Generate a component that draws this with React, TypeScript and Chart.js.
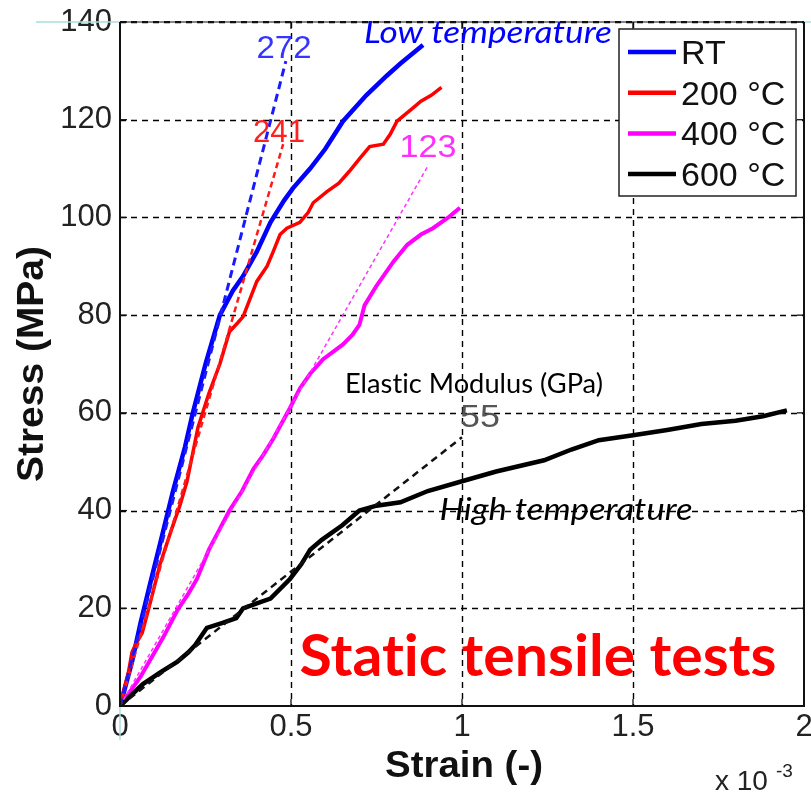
import React, { useEffect, useRef } from 'react';
import { Chart, registerables } from 'chart.js';

Chart.register(...registerables);

// ---------- data ----------
const xTickValues = [0, 0.5, 1, 1.5, 2];
const xTickLabels = ['0', '0.5', '1', '1.5', '2'];
const yTickValues = [0, 20, 40, 60, 80, 100, 120, 140];
const yTickLabels = ['0', '20', '40', '60', '80', '100', '120', '140'];

const seriesLabels = ['RT', '200 °C', '400 °C', '600 °C'];

// strain in units of 1e-3, stress in MPa
const rtStrain = [0, 0.012, 0.035, 0.06, 0.088, 0.12, 0.155, 0.19, 0.213, 0.25, 0.292, 0.33, 0.36, 0.4, 0.44, 0.48, 0.506, 0.556, 0.6, 0.652, 0.72, 0.78, 0.82, 0.886];
const rtStress = [0, 3, 9, 17, 25, 34, 44, 53, 60, 70, 80, 85, 88, 93, 99, 103.5, 106, 110, 114, 119.7, 125, 129, 131.5, 135.3];

const t200Strain = [0, 0.01, 0.025, 0.035, 0.045, 0.065, 0.088, 0.117, 0.15, 0.175, 0.196, 0.228, 0.26, 0.292, 0.32, 0.345, 0.36, 0.4, 0.43, 0.448, 0.468, 0.488, 0.526, 0.55, 0.565, 0.605, 0.64, 0.67, 0.7, 0.73, 0.77, 0.79, 0.81, 0.85, 0.88, 0.91, 0.94];
const t200Stress = [0, 3, 7, 11, 12.5, 15, 21, 29, 36, 41, 46, 57, 64, 70, 76.6, 78.5, 79.7, 86.9, 90, 93, 96.5, 97.8, 99, 101, 103, 105.3, 107, 109.4, 112, 114.5, 115, 117, 119.7, 122, 123.8, 125, 126.6];

const t400Strain = [0, 0.03, 0.06, 0.097, 0.126, 0.167, 0.2, 0.225, 0.26, 0.29, 0.32, 0.357, 0.39, 0.42, 0.448, 0.497, 0.526, 0.556, 0.594, 0.652, 0.68, 0.7, 0.715, 0.75, 0.8, 0.84, 0.88, 0.915, 0.96, 0.994];
const t400Stress = [0, 3, 6, 10.5, 14, 19.5, 23, 26, 32, 36, 40, 44, 48.5, 51.5, 54.7, 61, 65, 68, 71, 74, 76, 78, 82, 86, 91, 94.4, 96.5, 97.8, 100, 102];

const t600Strain = [0, 0.03, 0.067, 0.12, 0.167, 0.2, 0.22, 0.254, 0.3, 0.34, 0.36, 0.4, 0.44, 0.497, 0.53, 0.556, 0.59, 0.65, 0.7, 0.75, 0.82, 0.9, 1.0, 1.1, 1.24, 1.32, 1.4, 1.5, 1.6, 1.7, 1.8, 1.88, 1.95];
const t600Stress = [0, 2, 4.5, 7, 9, 11, 12.5, 16, 17, 18, 20, 21, 22, 26, 29, 32, 34, 37, 40, 41, 41.7, 44, 46, 48, 50.3, 52.5, 54.4, 55.4, 56.5, 57.7, 58.4, 59.3, 60.5];

// elastic-modulus fit lines (GPa), drawn from origin to end point
const modulusLabels = ['272', '241', '123', '55'];
const fitEndStrain = [0.485, 0.477, 0.9, 1.0];
const fitEndStress = [132, 115, 110.5, 55];

// ---------- styles ----------
const colors = ['#0000ff', '#ff0000', '#ff00ff', '#000000'];
const solidWidths = [4.5, 3.5, 4, 4.5];
const fitDash = [[8, 5], [6, 4], [4, 3], [7, 5]];
const fitWidths = [3, 2.5, 1.5, 2.5];
const fitColors = ['#1a1aff', '#ff1a1a', '#ff33ff', '#111111'];

// annotations (data coordinates of text centre / baseline)
const notes = [
  { text: modulusLabels[0], x: 0.4795, y: 132.6, font: '32px "Liberation Sans"', color: '#3535ff', w: 55 },
  { text: modulusLabels[1], x: 0.465, y: 115.4, font: '32px "Liberation Sans"', color: '#ff2020', w: 52 },
  { text: modulusLabels[2], x: 0.9006, y: 112.4, font: '32px "Liberation Sans"', color: '#ff30ff', w: 57 },
  { text: modulusLabels[3], x: 1.0526, y: 57.1, font: '32px "Liberation Sans"', color: '#555555', w: 40 },
  { text: 'Low temperature', x: 1.076, y: 135.7, font: 'italic 30px Lato', color: '#0000ff', w: 248 },
  { text: 'Elastic Modulus (GPa)', x: 1.035, y: 64.06, font: '26px Lato', color: '#000000', w: 258 },
  { text: 'High temperature', x: 1.304, y: 38.07, font: 'italic 30px Lato', color: '#000000', w: 253 },
  { text: 'Static tensile tests', x: 1.222, y: 6.2, font: 'bold 58px Lato', color: '#ff0000', w: 477 },
];

function drawText(ctx: CanvasRenderingContext2D, s: string, cx: number, base: number, font: string, color: string, w?: number) {
  ctx.save();
  ctx.font = font;
  try { (ctx as any).letterSpacing = '0.01px'; } catch (e) { /* ignore */ }
  ctx.fillStyle = color;
  ctx.textAlign = 'center';
  ctx.textBaseline = 'alphabetic';
  ctx.translate(cx, base);
  if (w) {
    const m = ctx.measureText(s).width;
    ctx.scale(w / m, 1);
  }
  ctx.fillText(s, 0, 0);
  ctx.restore();
}

function seg(ctx: CanvasRenderingContext2D, x1: number, y1: number, x2: number, y2: number) {
  ctx.beginPath();
  ctx.moveTo(x1, y1);
  ctx.lineTo(x2, y2);
  ctx.stroke();
}

const overlay = {
  id: 'overlay',
  beforeDatasetsDraw(chart: any) {
    const { ctx, chartArea: a, scales } = chart;
    const x = scales.x, y = scales.y;
    ctx.save();
    ctx.strokeStyle = '#000';
    ctx.lineWidth = 1.4;
    ctx.setLineDash([6, 5]);
    xTickValues.forEach((v) => {
      if (v > 0 && v < 2) {
        const px = Math.round(x.getPixelForValue(v)) + 0.5;
        seg(ctx, px, a.top, px, a.bottom);
      }
    });
    yTickValues.forEach((v) => {
      if (v > 0) {
        const py = Math.round(y.getPixelForValue(v)) + 0.5;
        seg(ctx, a.left, py, a.right, py);
      }
    });
    ctx.restore();
  },
  afterDatasetsDraw(chart: any) {
    const { ctx, chartArea: a, scales } = chart;
    const x = scales.x, y = scales.y;
    ctx.save();
    // artefact light lines
    ctx.strokeStyle = '#a9dde0';
    ctx.lineWidth = 1.5;
    seg(ctx, 36, a.top, a.left, a.top);
    seg(ctx, a.right, a.top, 811, a.top);
    seg(ctx, a.left, a.bottom, a.left, a.bottom + 34);

    // frame
    ctx.strokeStyle = '#111';
    ctx.lineWidth = 2;
    seg(ctx, a.left, a.top, a.left, a.bottom + 1);
    seg(ctx, a.left - 1, a.bottom, a.right + 1, a.bottom);
    seg(ctx, a.right, a.top, a.right, a.bottom);
    ctx.lineWidth = 1;
    seg(ctx, a.left, a.top, a.right, a.top);
    ctx.lineWidth = 2;
    ctx.setLineDash([6, 5]);
    seg(ctx, a.left, a.top, a.right, a.top);
    ctx.setLineDash([]);

    // inward ticks
    ctx.lineWidth = 1.3;
    const tl = 7;
    xTickValues.forEach((v) => {
      const px = x.getPixelForValue(v);
      seg(ctx, px, a.bottom, px, a.bottom - tl);
      seg(ctx, px, a.top, px, a.top + tl);
    });
    yTickValues.forEach((v) => {
      const py = y.getPixelForValue(v);
      seg(ctx, a.left, py, a.left + tl, py);
      seg(ctx, a.right, py, a.right - tl, py);
    });
    ctx.restore();

    // annotations
    notes.forEach((n) => {
      drawText(ctx, n.text, x.getPixelForValue(n.x), y.getPixelForValue(n.y), n.font, n.color, n.w);
    });

    // axis titles
    const cx = (a.left + a.right) / 2;
    drawText(ctx, 'Strain (-)', cx + 2, a.bottom + 71, 'bold 37px "Liberation Sans"', '#111', 158);
    ctx.save();
    ctx.translate(43, (a.top + a.bottom) / 2);
    ctx.rotate(-Math.PI / 2);
    drawText(ctx, 'Stress (MPa)', 0, 0, 'bold 37px "Liberation Sans"', '#111', 236);
    ctx.restore();
    ctx.save();
    ctx.fillStyle = '#222';
    ctx.textAlign = 'left';
    ctx.textBaseline = 'alphabetic';
    ctx.font = '28px "Liberation Sans"';
    ctx.fillText('x 10', 715, a.bottom + 84);
    ctx.font = '19px "Liberation Sans"';
    ctx.fillText('-3', 776, a.bottom + 71);
    ctx.restore();

    // legend
    ctx.save();
    const lx = 619, ly = 29, lw = 177, lh = 167;
    ctx.fillStyle = '#fff';
    ctx.fillRect(lx, ly, lw, lh);
    ctx.strokeStyle = '#222';
    ctx.lineWidth = 1.5;
    ctx.strokeRect(lx, ly, lw, lh);
    seriesLabels.forEach((lab, i) => {
      const yy = 52 + i * 40.7;
      ctx.strokeStyle = colors[i];
      ctx.lineWidth = 4.5;
      seg(ctx, 628, yy, 676, yy);
      ctx.fillStyle = '#111';
      ctx.font = '34px "Liberation Sans"';
      ctx.textAlign = 'left';
      ctx.textBaseline = 'alphabetic';
      ctx.fillText(lab, 681, yy + 12);
    });
    ctx.restore();
  },
};

function pts(xs: number[], ys: number[]) {
  return xs.map((v, i) => ({ x: v, y: ys[i] }));
}

export default function App() {
  const ref = useRef<HTMLCanvasElement | null>(null);

  useEffect(() => {
    if (!ref.current) return;
    const solids = [
      pts(rtStrain, rtStress),
      pts(t200Strain, t200Stress),
      pts(t400Strain, t400Stress),
      pts(t600Strain, t600Stress),
    ];
    const datasets: any[] = [];
    solids.forEach((d, i) => {
      datasets.push({
        label: seriesLabels[i],
        data: d,
        borderColor: colors[i],
        borderWidth: solidWidths[i],
        pointRadius: 0,
        tension: 0,
        fill: false,
        order: 4 - i,
      });
    });
    modulusLabels.forEach((m, i) => {
      datasets.push({
        label: m + ' GPa',
        data: [{ x: 0, y: 0 }, { x: fitEndStrain[i], y: fitEndStress[i] }],
        borderColor: fitColors[i],
        borderWidth: fitWidths[i],
        borderDash: fitDash[i],
        pointRadius: 0,
        tension: 0,
        fill: false,
        order: 0,
      });
    });

    const chart = new Chart(ref.current, {
      type: 'line',
      data: { datasets },
      options: {
        animation: false,
        responsive: false,
        maintainAspectRatio: false,
        layout: { padding: { top: 22, right: 7, left: 0, bottom: 0 } },
        plugins: { legend: { display: false }, tooltip: { enabled: false } },
        scales: {
          x: {
            type: 'linear',
            min: 0,
            max: 2,
            afterBuildTicks: (s: any) => {
              s.ticks = xTickValues.map((v) => ({ value: v }));
            },
            ticks: {
              callback: (v: any) => xTickLabels[xTickValues.indexOf(Number(v))],
              font: { family: 'Liberation Sans', size: 31 },
              color: '#222',
              padding: 3,
              maxRotation: 0,
              autoSkip: false,
            },
            grid: { display: false, drawTicks: false },
            border: { display: false },
            afterFit: (s: any) => {
              s.height = 89;
              s.paddingLeft = 0;
              s.paddingRight = 0;
            },
          },
          y: {
            type: 'linear',
            min: 0,
            max: 140,
            afterBuildTicks: (s: any) => {
              s.ticks = yTickValues.map((v) => ({ value: v }));
            },
            ticks: {
              callback: (v: any) => yTickLabels[yTickValues.indexOf(Number(v))],
              font: { family: 'Liberation Sans', size: 31 },
              color: '#222',
              padding: 8,
              autoSkip: false,
            },
            grid: { display: false, drawTicks: false },
            border: { display: false },
            afterFit: (s: any) => {
              s.width = 120;
              s.paddingTop = 0;
              s.paddingBottom = 0;
            },
          },
        },
      },
      plugins: [overlay],
    });
    return () => chart.destroy();
  }, []);

  return (
    <div style={{ position: 'absolute', left: 0, top: 0, width: 811, height: 795, background: '#fff' }}>
      <canvas ref={ref} width={811} height={795} style={{ display: 'block', width: 811, height: 795 }} />
    </div>
  );
}
